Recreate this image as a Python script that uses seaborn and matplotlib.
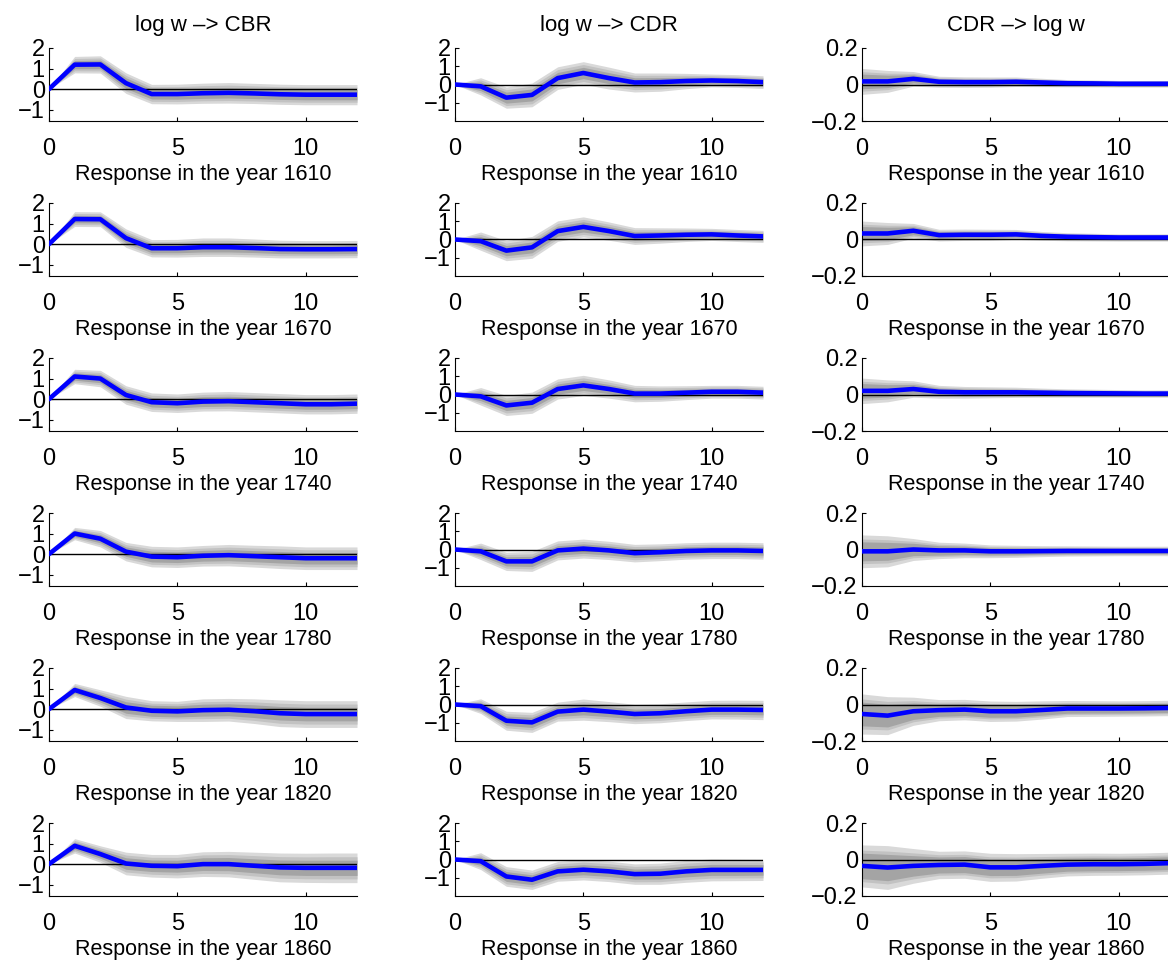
import numpy as np
import pandas as pd
import matplotlib
matplotlib.use("Agg")
import matplotlib.pyplot as plt
import seaborn as sns

# ---------------- data ----------------
LAGS = list(range(13))
YEARS = [1610, 1670, 1740, 1780, 1820, 1860]
TITLES = ["log w \u2013> CBR", "log w \u2013> CDR", "CDR \u2013> log w"]

# log w -> CBR : mean responses per year
CBR_MEAN = [
    [0, 1.19, 1.20, 0.29, -0.24, -0.24, -0.20, -0.18, -0.21, -0.25, -0.27, -0.27, -0.27],
    [0, 1.22, 1.21, 0.29, -0.20, -0.20, -0.15, -0.15, -0.19, -0.24, -0.25, -0.25, -0.24],
    [0, 1.10, 1.00, 0.20, -0.15, -0.20, -0.12, -0.10, -0.15, -0.20, -0.25, -0.25, -0.22],
    [0, 1.00, 0.75, 0.12, -0.12, -0.15, -0.08, -0.05, -0.10, -0.15, -0.20, -0.20, -0.20],
    [0, 0.93, 0.54, 0.08, -0.08, -0.11, -0.05, -0.03, -0.10, -0.20, -0.24, -0.24, -0.24],
    [0, 0.89, 0.49, 0.03, -0.08, -0.10, 0.00, 0.00, -0.08, -0.16, -0.18, -0.18, -0.18],
]
CBR_OUTER = [
    [0, 0.40, 0.42, 0.50, 0.47, 0.48, 0.49, 0.50, 0.49, 0.49, 0.49, 0.49, 0.49],
    [0, 0.36, 0.36, 0.45, 0.42, 0.43, 0.45, 0.45, 0.44, 0.43, 0.42, 0.42, 0.42],
    [0, 0.35, 0.40, 0.45, 0.45, 0.45, 0.46, 0.47, 0.47, 0.47, 0.47, 0.47, 0.47],
    [0, 0.30, 0.40, 0.45, 0.50, 0.50, 0.50, 0.52, 0.53, 0.55, 0.55, 0.55, 0.55],
    [0, 0.32, 0.40, 0.54, 0.49, 0.49, 0.55, 0.55, 0.60, 0.65, 0.65, 0.65, 0.65],
    [0, 0.35, 0.40, 0.55, 0.55, 0.57, 0.60, 0.62, 0.66, 0.70, 0.71, 0.72, 0.72],
]
CBR_INNER = [
    [0, 0.20, 0.21, 0.26, 0.24, 0.25, 0.25, 0.25, 0.25, 0.25, 0.25, 0.25, 0.25],
    [0, 0.18, 0.18, 0.23, 0.22, 0.22, 0.23, 0.23, 0.22, 0.22, 0.22, 0.22, 0.22],
    [0, 0.18, 0.20, 0.23, 0.23, 0.23, 0.24, 0.24, 0.24, 0.24, 0.24, 0.24, 0.24],
    [0, 0.15, 0.20, 0.23, 0.26, 0.26, 0.26, 0.27, 0.27, 0.28, 0.28, 0.28, 0.28],
    [0, 0.16, 0.20, 0.28, 0.27, 0.27, 0.29, 0.29, 0.31, 0.33, 0.33, 0.33, 0.33],
    [0, 0.18, 0.20, 0.28, 0.28, 0.29, 0.31, 0.32, 0.34, 0.36, 0.37, 0.37, 0.37],
]

# log w -> CDR
CDR_MEAN = [
    [0, -0.10, -0.72, -0.57, 0.35, 0.63, 0.35, 0.11, 0.13, 0.19, 0.22, 0.19, 0.13],
    [0, -0.09, -0.61, -0.43, 0.46, 0.69, 0.46, 0.19, 0.22, 0.26, 0.28, 0.22, 0.17],
    [0, -0.10, -0.60, -0.45, 0.30, 0.50, 0.30, 0.05, 0.05, 0.10, 0.15, 0.15, 0.10],
    [0, -0.10, -0.65, -0.65, -0.05, 0.05, -0.05, -0.20, -0.15, -0.08, -0.05, -0.05, -0.08],
    [0, -0.09, -0.89, -0.98, -0.39, -0.28, -0.39, -0.52, -0.48, -0.37, -0.28, -0.28, -0.30],
    [0, -0.09, -0.93, -1.11, -0.65, -0.56, -0.65, -0.80, -0.78, -0.65, -0.57, -0.57, -0.57],
]
CDR_OUTER = [
    [0, 0.47, 0.58, 0.65, 0.62, 0.62, 0.60, 0.52, 0.50, 0.42, 0.35, 0.35, 0.35],
    [0, 0.50, 0.55, 0.60, 0.56, 0.55, 0.50, 0.46, 0.42, 0.37, 0.33, 0.33, 0.33],
    [0, 0.48, 0.55, 0.58, 0.55, 0.55, 0.50, 0.45, 0.42, 0.38, 0.35, 0.35, 0.35],
    [0, 0.45, 0.50, 0.55, 0.52, 0.52, 0.50, 0.48, 0.46, 0.45, 0.45, 0.45, 0.45],
    [0, 0.40, 0.52, 0.55, 0.52, 0.58, 0.55, 0.53, 0.52, 0.51, 0.51, 0.52, 0.53],
    [0, 0.46, 0.54, 0.53, 0.54, 0.56, 0.56, 0.56, 0.58, 0.60, 0.60, 0.59, 0.58],
]
CDR_INNER = [
    [0, 0.24, 0.30, 0.33, 0.31, 0.31, 0.30, 0.26, 0.25, 0.21, 0.18, 0.18, 0.18],
    [0, 0.25, 0.28, 0.30, 0.28, 0.28, 0.25, 0.23, 0.21, 0.19, 0.17, 0.17, 0.17],
    [0, 0.24, 0.28, 0.29, 0.28, 0.28, 0.25, 0.23, 0.21, 0.19, 0.18, 0.18, 0.18],
    [0, 0.23, 0.25, 0.28, 0.26, 0.26, 0.25, 0.24, 0.23, 0.23, 0.23, 0.23, 0.23],
    [0, 0.20, 0.26, 0.28, 0.26, 0.29, 0.28, 0.27, 0.26, 0.26, 0.26, 0.26, 0.27],
    [0, 0.23, 0.27, 0.27, 0.27, 0.28, 0.28, 0.28, 0.29, 0.30, 0.30, 0.30, 0.29],
]

# CDR -> log w
LOGW_MEAN = [
    [0.017, 0.017, 0.031, 0.015, 0.013, 0.013, 0.015, 0.011, 0.007, 0.006, 0.004, 0.004, 0.004],
    [0.033, 0.033, 0.048, 0.024, 0.026, 0.026, 0.028, 0.020, 0.015, 0.013, 0.011, 0.011, 0.011],
    [0.020, 0.020, 0.030, 0.015, 0.012, 0.012, 0.012, 0.010, 0.008, 0.007, 0.006, 0.005, 0.005],
    [-0.010, -0.010, 0.000, -0.005, -0.005, -0.010, -0.010, -0.009, -0.008, -0.008, -0.008, -0.008, -0.008],
    [-0.052, -0.061, -0.037, -0.031, -0.028, -0.037, -0.037, -0.030, -0.022, -0.022, -0.022, -0.021, -0.019],
    [-0.035, -0.044, -0.035, -0.030, -0.028, -0.043, -0.043, -0.035, -0.028, -0.026, -0.026, -0.024, -0.020],
]
LOGW_OUTER = [
    [0.071, 0.060, 0.040, 0.030, 0.029, 0.028, 0.026, 0.023, 0.020, 0.019, 0.018, 0.018, 0.018],
    [0.068, 0.060, 0.040, 0.032, 0.031, 0.030, 0.027, 0.024, 0.022, 0.021, 0.020, 0.020, 0.020],
    [0.070, 0.060, 0.045, 0.035, 0.032, 0.030, 0.028, 0.025, 0.023, 0.022, 0.021, 0.020, 0.020],
    [0.090, 0.085, 0.060, 0.045, 0.040, 0.035, 0.033, 0.030, 0.028, 0.027, 0.026, 0.026, 0.026],
    [0.110, 0.104, 0.077, 0.058, 0.056, 0.056, 0.054, 0.050, 0.044, 0.043, 0.042, 0.042, 0.042],
    [0.115, 0.120, 0.095, 0.075, 0.075, 0.077, 0.075, 0.068, 0.062, 0.061, 0.060, 0.060, 0.060],
]
LOGW_INNER = [
    [0.040, 0.034, 0.022, 0.017, 0.016, 0.016, 0.015, 0.013, 0.011, 0.011, 0.010, 0.010, 0.010],
    [0.038, 0.034, 0.022, 0.018, 0.017, 0.017, 0.015, 0.013, 0.012, 0.012, 0.011, 0.011, 0.011],
    [0.040, 0.034, 0.025, 0.020, 0.018, 0.017, 0.016, 0.014, 0.013, 0.012, 0.012, 0.011, 0.011],
    [0.052, 0.049, 0.034, 0.026, 0.023, 0.020, 0.019, 0.017, 0.016, 0.015, 0.015, 0.015, 0.015],
    [0.065, 0.062, 0.045, 0.034, 0.033, 0.033, 0.032, 0.029, 0.026, 0.025, 0.025, 0.025, 0.025],
    [0.070, 0.072, 0.056, 0.044, 0.044, 0.045, 0.044, 0.040, 0.036, 0.036, 0.035, 0.035, 0.035],
]

YLIMS = [(-1.55, 2.0), (-2.0, 2.0), (-0.2, 0.2)]
YTICKS = [[-1, 0, 1, 2], [-1, 0, 1, 2], [-0.2, 0, 0.2]]
YTICKLABELS = [["\u22121", "0", "1", "2"], ["\u22121", "0", "1", "2"], ["\u22120.2", "0", "0.2"]]

# ---------------- style ----------------
sns.set_theme(style="ticks")
plt.rcParams["font.family"] = ["Liberation Sans", "DejaVu Sans"]

W, H = 1168, 961
fig = plt.figure(figsize=(W / 100, H / 100), dpi=100)

col_left = [49, 455, 862]
ax_w = 308
row_top = [48, 203, 358, 513, 668, 823]
ax_h = 73

columns = [
    (CBR_MEAN, CBR_OUTER, CBR_INNER),
    (CDR_MEAN, CDR_OUTER, CDR_INNER),
    (LOGW_MEAN, LOGW_OUTER, LOGW_INNER),
]

for c, (means, outers, inners) in enumerate(columns):
    for r, year in enumerate(YEARS):
        ax = fig.add_axes([col_left[c] / W, 1 - (row_top[r] + ax_h) / H, ax_w / W, ax_h / H])
        m = np.array(means[r])
        o = np.array(outers[r])
        i = np.array(inners[r])
        x = np.array(LAGS)
        ax.fill_between(x, m - o, m + o, color="#d9d9d9", lw=0, zorder=1)
        ax.fill_between(x, m - 0.75 * o, m + 0.75 * o, color="#c2c2c2", lw=0, zorder=1.1)
        ax.fill_between(x, m - i, m + i, color="#a4a4a4", lw=0, zorder=1.2)
        ax.axhline(0, color="black", lw=1.0, zorder=2)
        df = pd.DataFrame({"lag": LAGS, "resp": means[r]})
        sns.lineplot(data=df, x="lag", y="resp", ax=ax, color="#0000ff", lw=3.3, zorder=3)
        ax.set_xlim(0, 12)
        ax.set_ylim(*YLIMS[c])
        ax.set_xticks([0, 5, 10])
        ax.set_xticklabels(["0", "5", "10"])
        ax.set_yticks(YTICKS[c])
        ax.set_yticklabels(YTICKLABELS[c])
        ax.tick_params(axis="both", direction="in", length=3, width=0.8, colors="black", labelsize=17)
        ax.tick_params(axis="x", pad=12)
        ax.tick_params(axis="y", pad=3)
        ax.set_xlabel(f"Response in the year {year}", fontsize=15.5, labelpad=3, color="black")
        ax.set_ylabel("")
        for s in ["top", "right"]:
            ax.spines[s].set_visible(False)
        for s in ["left", "bottom"]:
            ax.spines[s].set_color("black")
            ax.spines[s].set_linewidth(0.8)
        ax.set_facecolor("white")
        if r == 0:
            ax.set_title(TITLES[c], fontsize=16, pad=12, color="black")

fig.savefig("out.png", dpi=100, facecolor="white")
